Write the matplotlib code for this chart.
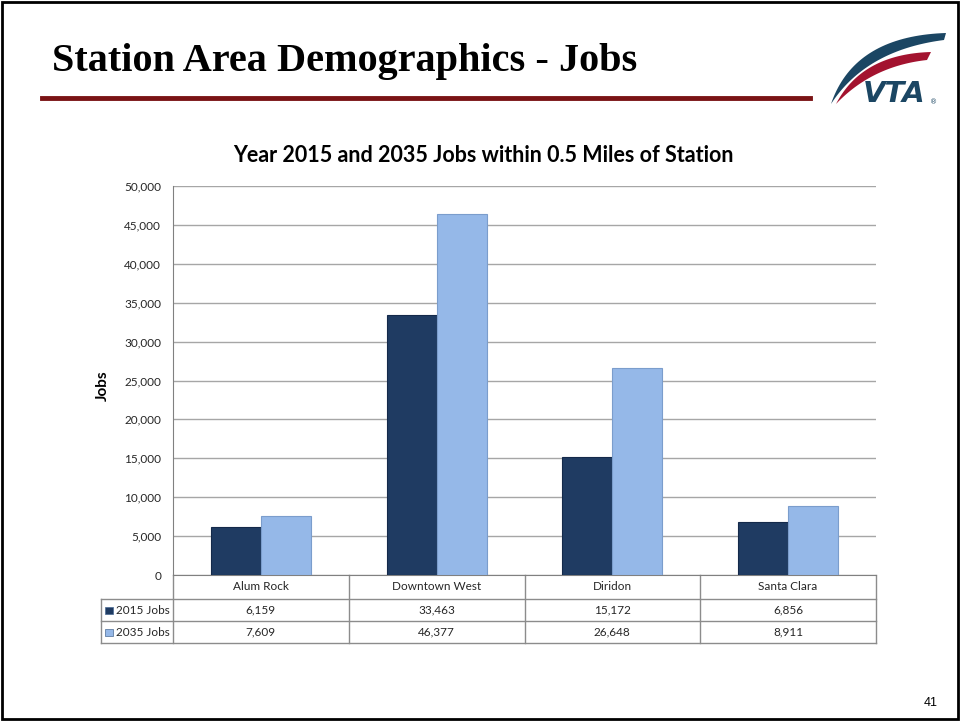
"""
Station area demographics - jobs within 0.5 miles of station
"""

import numpy as np
import matplotlib.pyplot as plt
from matplotlib.patches import Polygon, Rectangle
from matplotlib.lines import Line2D

# ------------------------
# Data
# ------------------------
stations = ["Alum Rock", "Downtown West", "Diridon", "Santa Clara"]
jobs_2015 = [6159, 33463, 15172, 6856]
jobs_2035 = [7609, 46377, 26648, 8911]
series_labels = ["2015 Jobs", "2035 Jobs"]
y_ticks = [0, 5000, 10000, 15000, 20000, 25000, 30000, 35000, 40000, 45000, 50000]

# ------------------------
# Styling
# ------------------------
W, H = 960, 721
DARK = "#1F3B62"
LIGHT = "#95B8E8"
GRID = "#A6A6A6"
TABLE_LINE = "#8C8C8C"
FONT = "Lato"


def fx(px):
    return px / W


def fy(py):
    return 1 - py / H


fig = plt.figure(figsize=(9.6, 7.21), dpi=100)

# slide frame
fig.add_artist(Rectangle((fx(2), fy(719)), fx(956), 717 / H, fill=False,
                         edgecolor="black", lw=2, transform=fig.transFigure))

# slide title + red rule
fig.text(fx(52), fy(61), "Station Area Demographics - Jobs", family="Liberation Serif",
         weight="bold", size=29, va="center", ha="left")
fig.add_artist(Line2D([fx(42), fx(810)], [fy(98), fy(98)], color="#7A1315", lw=3.5))

# ------------------------
# VTA logo (simple drawing)
# ------------------------
logo = fig.add_axes([fx(826), fy(108), fx(124), 80 / H])
logo.set_xlim(0, 124)
logo.set_ylim(0, 80)
logo.axis("off")


def swoosh(p0, c_out, end_out, c_in, end_in, n=40):
    t = np.linspace(0, 1, n)[:, None]
    p0 = np.array(p0)
    outer = (1 - t) ** 2 * p0 + 2 * (1 - t) * t * np.array(c_out) + t ** 2 * np.array(end_out)
    inner = (1 - t) ** 2 * p0 + 2 * (1 - t) * t * np.array(c_in) + t ** 2 * np.array(end_in)
    return np.vstack([outer, inner[::-1]])


logo.add_patch(Polygon(swoosh((5, 4), (28, 72), (120, 75), (40, 58), (118, 68)),
                       color="#1B4663", lw=0))
logo.add_patch(Polygon(swoosh((10, 4), (36, 54), (105, 56), (46, 42), (101, 48)),
                       color="#A3132F", lw=0))
logo.text(68, 14, "VTA", family="DejaVu Sans", weight="heavy", style="italic",
          size=21, color="#1B4663", ha="center", va="center")
logo.text(108, 6, "\u00ae", size=5, color="#1B4663", ha="center", va="center")

# ------------------------
# Chart
# ------------------------
ax = fig.add_axes([fx(173), fy(575), fx(876) - fx(173), (575 - 186) / H])

x = np.arange(len(stations))
w = 0.285
ax.bar(x - w / 2, jobs_2015, w, color=DARK, edgecolor="#14294a", lw=0.8, zorder=3)
ax.bar(x + w / 2, jobs_2035, w, color=LIGHT, edgecolor="#7B9DCC", lw=0.8, zorder=3)

ax.set_xlim(-0.5, len(stations) - 0.5)
ax.set_ylim(0, 50000)
ax.set_yticks(y_ticks)
ax.set_yticklabels([f"{v:,}" for v in y_ticks], family=FONT, size=8.5, color="#262626")
ax.set_xticks([])
ax.yaxis.grid(True, color=GRID, lw=1, zorder=0)
ax.tick_params(axis="y", direction="out", length=0, pad=8.6)
for side in ["top", "right"]:
    ax.spines[side].set_visible(False)
ax.spines["left"].set_color("#808080")
ax.spines["bottom"].set_color("#808080")

fig.text(fx(483), fy(156), "Year 2015 and 2035 Jobs within 0.5 Miles of Station", family=FONT,
         weight="bold", size=15.5, ha="center", va="center")
fig.text(fx(103), fy(386), "Jobs", family=FONT, weight="bold", size=11,
         rotation=90, ha="center", va="center")

# ------------------------
# Data table under the chart
# ------------------------
ah = 389.0
aw = 703.0
rows_y = [0, -24 / ah, -46 / ah, -68 / ah]
x_left = (101 - 173) / aw
n = len(stations)
line_kw = dict(color=TABLE_LINE, lw=1, transform=ax.transAxes, clip_on=False)

for yy in rows_y[1:]:
    ax.add_line(Line2D([x_left, 1], [yy, yy], **line_kw))
for i in range(n + 1):
    ax.add_line(Line2D([i / n, i / n], [0, rows_y[-1]], **line_kw))
ax.add_line(Line2D([x_left, x_left], [rows_y[1], rows_y[-1]], **line_kw))

text_kw = dict(family=FONT, size=8.5, color="#262626", transform=ax.transAxes,
               ha="center", va="center")
for i, name in enumerate(stations):
    ax.text((i + 0.5) / n, (rows_y[0] + rows_y[1]) / 2, name, **text_kw)
    ax.text((i + 0.5) / n, (rows_y[1] + rows_y[2]) / 2, f"{jobs_2015[i]:,}", **text_kw)
    ax.text((i + 0.5) / n, (rows_y[2] + rows_y[3]) / 2, f"{jobs_2035[i]:,}", **text_kw)

for r, (label, col) in enumerate(zip(series_labels, [DARK, LIGHT])):
    yc = (rows_y[r + 1] + rows_y[r + 2]) / 2
    ax.add_patch(Rectangle(((105 - 173) / aw, yc - 3.5 / ah), 8 / aw, 7 / ah, facecolor=col,
                           edgecolor="#4a6a94", lw=0.5, transform=ax.transAxes, clip_on=False))
    ax.text((116 - 173) / aw, yc, label, family=FONT, size=8.5, color="#262626",
            transform=ax.transAxes, ha="left", va="center")

# page number
fig.text(fx(931), fy(703), "41", family="Liberation Sans", size=9, ha="center", va="center")

plt.savefig("out.png", dpi=100)
